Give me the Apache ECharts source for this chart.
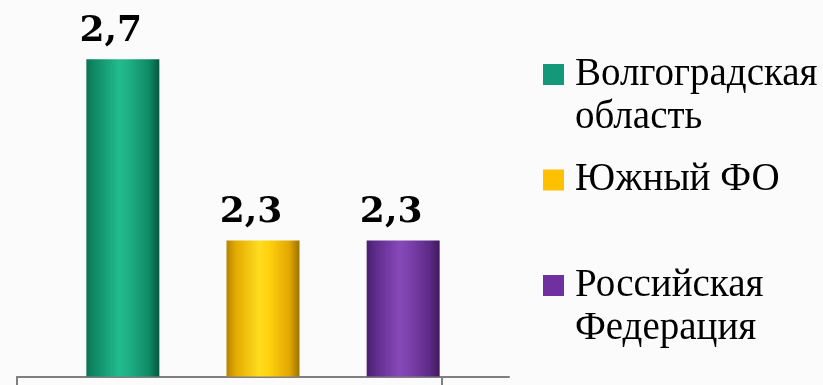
<!DOCTYPE html>
<html>
<head>
<meta charset="utf-8">
<script src="https://cdn.jsdelivr.net/npm/echarts@6/dist/echarts.min.js"></script>
<style>
  html, body { margin: 0; padding: 0; background: #fbfbfb; }
  #chart { width: 823px; height: 385px; }
</style>
</head>
<body>
<div id="chart"></div>
<script>
// Single category, three regions compared side by side
const categories = [''];
const seriesNames = ['Волгоградская\nобласть', 'Южный ФО', 'Российская\nФедерация'];
const seriesValues = [2.7, 2.3, 2.3];
const legendColors = ['#13997a', '#ffc000', '#7030a0'];

// Horizontal "cylinder" shading for each bar
const barShades = [
  ['#0b7553', '#0f8b66', '#22bb8d', '#1eb085', '#0f8a64', '#06573e'],
  ['#b58400', '#e2a900', '#ffdd1f', '#ffd20e', '#e3a700', '#9a7300'],
  ['#4a1e70', '#5f2b8b', '#8749b9', '#7d41ac', '#5d2a87', '#40185e']
];
const stopPos = [0, 0.12, 0.45, 0.58, 0.86, 1];

function shade(colors) {
  return {
    type: 'linear', x: 0, y: 0, x2: 1, y2: 0,
    colorStops: colors.map((c, i) => ({ offset: stopPos[i], color: c }))
  };
}

const numFont = '"DejaVu Serif", serif';
const textFont = '"Liberation Serif", serif';

// Legend swatch: a square sitting beside the first of two text lines.
// The hair-thin strokes at the top and bottom stretch the icon box to
// the full two-line height so the square stays at the top.
const swatchIcon = 'path://M0,0h0.01M0,11h21v21h-21zM0,86h0.01';

const chart = echarts.init(document.getElementById('chart'));

chart.setOption({
  backgroundColor: '#fbfbfb',
  animation: false,
  grid: [
    { left: 17, right: 314, top: 14, bottom: 8.5 },
    { left: 17, right: 381, top: 14, bottom: 8.5 }
  ],
  xAxis: [
    {
      type: 'category', gridIndex: 0, data: categories,
      axisLine: { show: true, lineStyle: { color: '#7f7f7f', width: 2 } },
      axisTick: { show: false },
      axisLabel: { show: false }
    },
    {
      type: 'category', gridIndex: 1, data: categories,
      axisLine: { show: false },
      axisTick: { show: true, length: 9, lineStyle: { color: '#7f7f7f', width: 2 } },
      axisLabel: { show: false }
    }
  ],
  yAxis: [
    { type: 'value', gridIndex: 0, min: 2, max: 2.8, show: false },
    { type: 'value', gridIndex: 1, min: 2, max: 2.8, show: false }
  ],
  legend: {
    orient: 'vertical',
    left: 543,
    top: 53,
    padding: 0,
    itemWidth: 21,
    itemHeight: 86,
    itemGap: 19.5,
    icon: swatchIcon,
    data: seriesNames.map((n, i) => ({ name: n, itemStyle: { color: legendColors[i] } })),
    formatter: name => (name.indexOf('\n') < 0 ? name + '\n ' : name),
    textStyle: {
      fontFamily: textFont,
      fontSize: 39,
      lineHeight: 43,
      color: '#000',
      padding: [0, 0, 0, 6]
    }
  },
  series: seriesNames.map((name, i) => ({
    type: 'bar',
    name: name,
    xAxisIndex: 0,
    yAxisIndex: 0,
    data: [seriesValues[i]],
    barWidth: 73,
    barGap: '92%',
    itemStyle: { color: shade(barShades[i]) },
    label: {
      show: true,
      position: 'top',
      distance: 10,
      offset: [-12, 0],
      fontFamily: numFont,
      fontSize: 36,
      fontWeight: 'bold',
      color: '#000',
      formatter: p => String(p.value).replace('.', ',')
    }
  }))
});
</script>
</body>
</html>
